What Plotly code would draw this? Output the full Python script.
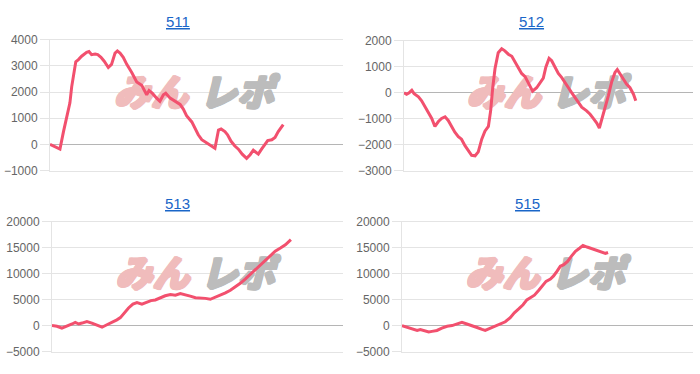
import plotly.graph_objects as go

# ---------------- data ----------------
titles = ["511", "512", "513", "515"]

x511 = [0, 2.8, 3.4, 4.6, 5.7, 6.8, 7.4, 8.8, 9.7, 10.8, 12.5, 13.3, 14.2, 15.4, 16.3, 17.4, 18.5, 19.9, 21.0, 22.2,
        23.0, 23.9, 25.0, 26.2, 27.9, 29.6, 31.3, 32.4, 33.0, 33.8, 34.9, 36.4, 37.5, 38.7, 39.5, 41.0, 42.7, 44.4, 45.5, 46.6,
        48.4, 49.5, 50.6, 51.8, 53.5, 55.2, 56.3, 57.5, 58.4, 59.7, 60.6, 61.8, 63.1, 64.3, 65.6, 67.1, 68.3, 69.4, 71.1, 72.2,
        73.4, 74.3, 75.7, 76.8, 77.9, 79.6]
v511 = [0, -150, -180, 490, 1100, 1590, 2200, 3160, 3240, 3370, 3520, 3550, 3430, 3450, 3430, 3330, 3180, 2940, 3060, 3490,
        3570, 3490, 3330, 3060, 2750, 2390, 2260, 2020, 1900, 2060, 1960, 1770, 1650, 1900, 1960, 1770, 1650, 1530, 1350, 1100,
        860, 610, 370, 180, 60, -60, -150, 550, 590, 490, 370, 120, -60, -180, -370, -530, -390, -220, -370, -180,
        0, 150, 180, 270, 490, 760]

x512 = [0, 0.9, 1.8, 2.7, 3.5, 5.0, 6.1, 7.3, 8.4, 9.6, 10.7, 11.9, 13.0, 14.2, 15.3, 16.5, 17.6, 18.8, 19.9, 21.1,
        22.3, 23.4, 24.6, 25.7, 26.9, 28.0, 29.2, 30.0, 30.7, 31.5, 32.6, 33.8, 34.9, 36.1, 37.3, 38.4, 39.6, 40.7, 41.9, 43.0,
        44.5, 45.9, 47.1, 48.2, 49.1, 50.2, 51.1, 52.2, 53.4, 54.6, 55.7, 56.9, 58.0, 59.2, 60.3, 61.5, 63.2, 64.4, 65.5, 66.7,
        67.6, 68.4, 69.6, 70.7, 71.9, 73.0, 73.8, 74.7, 75.9, 77.0, 78.2, 79.4, 80.2]
v512 = [0, -60, 0, 90, -40, -160, -310, -560, -800, -990, -1300, -1110, -990, -930, -1070, -1300, -1520, -1690, -1790, -2040,
        -2260, -2410, -2430, -2280, -1790, -1480, -1300, -680, 190, 930, 1540, 1690, 1610, 1480, 1400, 1170, 930, 740, 620, 370,
        60, 190, 370, 560, 990, 1320, 1230, 990, 740, 580, 370, 190, 0, -190, -370, -560, -700, -830, -990, -1170,
        -1360, -1050, -620, -120, 430, 780, 890, 740, 490, 330, 190, -60, -310]

x513 = [0, 1.7, 3.4, 5.2, 6.9, 8.0, 9.2, 10.3, 12.0, 13.7, 15.5, 17.2, 18.7, 20.0, 21.2, 22.3, 23.5, 24.9, 26.3, 27.8,
        29.2, 30.9, 32.4, 34.0, 35.5, 37.2, 38.9, 40.7, 42.4, 44.1, 45.8, 47.5, 49.3, 51.0, 52.7, 54.4, 56.1, 57.8, 59.6, 61.3,
        63.0, 64.7, 66.4, 68.2, 69.9, 71.6, 73.3, 75.0, 76.7, 78.5, 80.2, 82.1]
v513 = [0, -120, -490, -120, 310, 620, 310, 490, 800, 490, 120, -310, 120, 430, 800, 1110, 1540, 2470, 3390, 4130,
        4440, 4130, 4500, 4810, 4940, 5370, 5740, 5980, 5860, 6170, 5980, 5680, 5370, 5370, 5240, 5060, 5430, 5860, 6290, 6790,
        7400, 8140, 8950, 9870, 10920, 11720, 12650, 13450, 14310, 14930, 15550, 16540]

x515 = [0, 1.7, 3.4, 5.2, 6.3, 7.4, 9.2, 10.3, 12.0, 13.7, 15.5, 17.2, 18.9, 20.6, 22.3, 24.1, 25.8, 27.5, 28.6, 30.4,
        32.1, 33.8, 35.5, 37.2, 38.6, 40.1, 41.6, 42.9, 44.1, 45.5, 47.0, 48.1, 49.5, 51.0, 52.1, 53.3, 54.4, 55.6, 56.9, 58.1,
        59.6, 61.1, 62.2, 63.6, 65.3, 67.0, 68.7, 69.9, 70.8]
v515 = [0, -310, -620, -930, -740, -930, -1230, -1110, -930, -490, -120, 0, 310, 620, 310, 0, -370, -740, -930, -490,
        -120, 310, 740, 1540, 2470, 3210, 4010, 4940, 5430, 5860, 6790, 7530, 8510, 8950, 9560, 10490, 11410, 11720, 12340, 13260,
        14310, 14930, 15430, 15120, 14810, 14500, 14190, 13880, 14070]

y_ranges = [[-1000, 4000], [-3000, 2000], [-5000, 20000], [-5000, 20000]]
y_dticks = [1000, 1000, 5000, 5000]
x_range = [0, 100]

watermark_words = ["みん", "レポ"]
watermark_colors = ["#f0bcbc", "#bcbcbc"]
watermark_xfrac = [0.345, 0.638]

# ---------------- layout geometry ----------------
W, H = 700, 374
x_domains = [[50 / W, 343 / W], [404 / W, 693 / W], [52 / W, 343 / W], [402 / W, 693 / W]]
y_domains = [[1 - 170 / H, 1 - 34 / H], [1 - 170 / H, 1 - 35 / H], [1 - 358 / H, 1 - 223 / H], [1 - 358 / H, 1 - 223 / H]]
title_pos = [(178 / W, 1 - 15 / H), (531 / W, 1 - 15 / H), (177.5 / W, 1 - 204 / H), (527.5 / W, 1 - 204 / H)]

LINE_COLOR = "#f2506e"
GRID = "#e4e4e4"
ZERO = "#b5b5b5"
FONT = "Liberation Sans, Arial, Helvetica, sans-serif"


def fatten(c):
    offs = [(1, 0), (-1, 0), (0, 1), (0, -1), (1, 1), (-1, -1), (1, -1), (-1, 1)]
    return ", ".join(f"{dx}px {dy}px 0 {c}" for dx, dy in offs)


series = [(x511, v511), (x512, v512), (x513, v513), (x515, v515)]

fig = go.Figure()
for i, (xs, vs) in enumerate(series):
    k = "" if i == 0 else str(i + 1)
    xa, ya = "x" + k, "y" + k
    lo, hi = y_ranges[i]
    # watermark (drawn before the line so it sits underneath)
    for word, col, fx in zip(watermark_words, watermark_colors, watermark_xfrac):
        fig.add_trace(go.Scatter(
            x=[x_range[0] + fx * (x_range[1] - x_range[0])], y=[lo + 0.567 * (hi - lo)],
            mode="text", text=[word], xaxis=xa, yaxis=ya,
            textfont=dict(family="Noto Sans CJK JP", size=37, color=col, weight=900, style="italic",
                          shadow=fatten(col)),
            hoverinfo="skip", showlegend=False, cliponaxis=False))
    fig.add_trace(go.Scatter(
        x=xs, y=vs, mode="lines", xaxis=xa, yaxis=ya,
        line=dict(color=LINE_COLOR, width=3), showlegend=False, hoverinfo="skip"))

layout = dict(width=W, height=H, margin=dict(l=0, r=0, t=0, b=0),
              paper_bgcolor="white", plot_bgcolor="rgba(0,0,0,0)", showlegend=False,
              font=dict(family=FONT, color="#666666", size=12))
for i in range(4):
    k = "" if i == 0 else str(i + 1)
    layout["xaxis" + k] = dict(domain=x_domains[i], range=x_range, showgrid=False, zeroline=False,
                               showticklabels=False, showline=True, mirror=True, linecolor=GRID, linewidth=1,
                               ticks="", anchor="y" + k, fixedrange=True)
    layout["yaxis" + k] = dict(domain=y_domains[i], range=y_ranges[i], dtick=y_dticks[i], tick0=0,
                               tickformat="d",
                               showgrid=True, gridcolor=GRID, gridwidth=1,
                               zeroline=True, zerolinecolor=ZERO, zerolinewidth=1,
                               showline=True, linecolor=GRID, linewidth=1,
                               ticks="outside", ticklen=9, tickcolor=GRID,
                               tickfont=dict(family=FONT, size=12, color="#666666"),
                               anchor="x" + k, fixedrange=True)
fig.update_layout(**layout)

for i, t in enumerate(titles):
    fig.add_annotation(x=title_pos[i][0], y=title_pos[i][1], xref="paper", yref="paper",
                       text="<u>" + t + "</u>", showarrow=False, xanchor="center", yanchor="middle",
                       font=dict(family=FONT, size=15, color="#1a66c8"))

fig.write_html("out.html")
